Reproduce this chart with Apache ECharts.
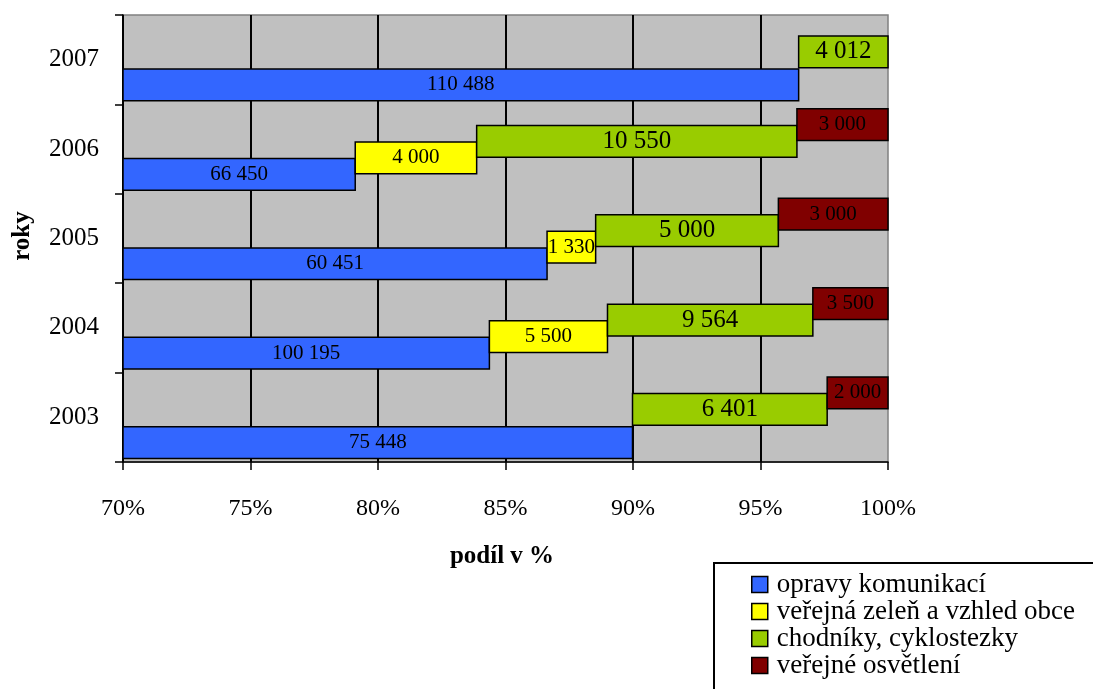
<!DOCTYPE html>
<html lang="cs">
<head>
    <meta charset="UTF-8">
    <title>Echarts</title>
    <script type="text/javascript" src="https://cdn.jsdelivr.net/npm/echarts@6/dist/echarts.min.js"></script>
    <style>
        body { margin: 0; background: #fff; }
    </style>
</head>
<body>
<div id="main" style="width: 1093px; height: 689px;"></div>

<script type="text/javascript">
    // roky (osa Y, odspodu)
    var roky = ['2003', '2004', '2005', '2006', '2007'];
    // hodnoty jednotlivych rad
    var opravy = [75448, 100195, 60451, 66450, 110488];
    var zelen = [0, 5500, 1330, 4000, 0];
    var chodniky = [6401, 9564, 5000, 10550, 4012];
    var osvetleni = [2000, 3500, 3000, 3000, 0];
    var nazvy = ['opravy komunikací', 'veřejná zeleň a vzhled obce', 'chodníky, cyklostezky', 'veřejné osvětlení'];
    var barvy = ['#3366ff', '#ffff00', '#99cc00', '#800000'];
    var osaX = [70, 100];

    var FONT = '"Liberation Serif", "Times New Roman", serif';
    var rady = [opravy, zelen, chodniky, osvetleni];
    var velikostPisma = [21, 21, 25, 21];

    function formatCislo(n) {
        return String(n).replace(/\B(?=(\d{3})+(?!\d))/g, ' ');
    }

    // 100% skladani - zacatek a konec kazdeho useku v procentech
    var data = rady.map(function () { return []; });
    for (var i = 0; i < roky.length; i++) {
        var suma = 0;
        for (var s = 0; s < rady.length; s++) suma += rady[s][i];
        var acc = 0;
        for (var s = 0; s < rady.length; s++) {
            var v = rady[s][i];
            if (v > 0) {
                data[s].push([i, acc / suma * 100, (acc + v) / suma * 100, v]);
            }
            acc += v;
        }
    }

    function renderItem(params, api) {
        var s = params.seriesIndex;
        var cat = api.value(0);
        var p0 = api.coord([Math.max(api.value(1), osaX[0]), cat]);
        var p1 = api.coord([api.value(2), cat]);
        var band = api.size([0, 1])[1];
        var h = band * 0.355;
        var bottom = p0[1] + band * 0.46 - s * band * 0.185;
        return {
            type: 'group',
            children: [{
                type: 'rect',
                shape: { x: p0[0], y: bottom - h, width: p1[0] - p0[0], height: h },
                style: { fill: barvy[s], stroke: '#000', lineWidth: 1.5 }
            }, {
                type: 'text',
                x: (p0[0] + p1[0]) / 2,
                y: bottom - h / 2,
                style: {
                    text: formatCislo(api.value(3)),
                    fill: '#000',
                    font: velikostPisma[s] + 'px ' + FONT,
                    align: 'center',
                    verticalAlign: 'middle'
                }
            }]
        };
    }

    var myChart = echarts.init(document.getElementById('main'));

    myChart.setOption({
        animation: false,
        backgroundColor: '#fff',
        color: barvy,
        textStyle: { fontFamily: FONT },
        grid: {
            left: 123, right: 205, top: 15, bottom: 227,
            show: true,
            backgroundColor: '#c0c0c0',
            borderColor: '#808080',
            borderWidth: 1.5
        },
        legend: {
            orient: 'vertical',
            left: 714,
            top: 563,
            height: 300,
            padding: [8, 300, 30, 37],
            borderColor: '#000',
            borderWidth: 2,
            itemGap: 0,
            itemWidth: 16,
            itemHeight: 16,
            icon: 'rect',
            itemStyle: { borderColor: '#000', borderWidth: 1.5 },
            textStyle: { fontFamily: FONT, fontSize: 27, color: '#000', lineHeight: 27, padding: [0, 0, 0, 4] },
            data: nazvy.map(function (n, k) {
                return { name: n, itemStyle: { color: barvy[k] } };
            })
        },
        xAxis: {
            type: 'value',
            min: osaX[0],
            max: osaX[1],
            interval: 5,
            axisLine: { show: true, lineStyle: { color: '#000', width: 1.5 } },
            axisTick: { show: true, length: 8, lineStyle: { color: '#000', width: 1.5 } },
            axisLabel: { formatter: '{value}%', fontFamily: FONT, fontSize: 24, color: '#000', margin: 35 },
            splitLine: { show: true, showMaxLine: false, lineStyle: { color: '#000', width: 2 } }
        },
        yAxis: {
            type: 'category',
            data: roky,
            axisLine: { show: true, lineStyle: { color: '#000', width: 1.5 } },
            axisTick: { show: true, length: 8, lineStyle: { color: '#000', width: 1.5 } },
            axisLabel: { fontFamily: FONT, fontSize: 25, color: '#000', margin: 24 },
            splitLine: { show: false }
        },
        graphic: [{
            type: 'text',
            x: 502, y: 557,
            style: { text: 'podíl v %', font: 'bold 25px ' + FONT, fill: '#000', align: 'center', verticalAlign: 'middle' }
        }, {
            type: 'text',
            x: 23, y: 236,
            rotation: Math.PI / 2,
            style: { text: 'roky', font: 'bold 25px ' + FONT, fill: '#000', align: 'center', verticalAlign: 'middle' }
        }],
        series: nazvy.map(function (n, s) {
            return {
                name: n,
                type: 'custom',
                itemStyle: { color: barvy[s] },
                renderItem: renderItem,
                encode: { x: [1, 2], y: 0 },
                data: data[s]
            };
        })
    });
</script>
</body>
</html>
